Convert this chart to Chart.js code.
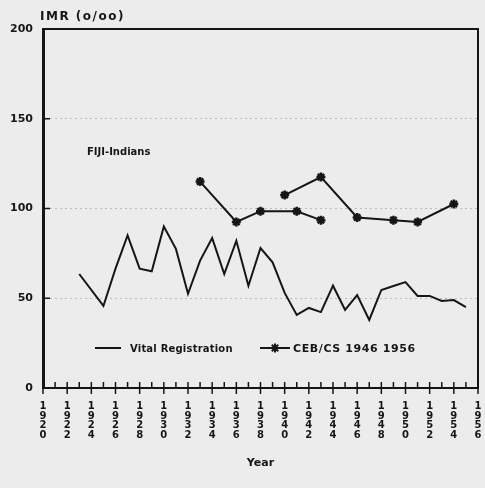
<!DOCTYPE html>
<html>
<head>
<meta charset="utf-8">
<script src="https://cdn.jsdelivr.net/npm/chart.js@4"></script>
<style>
  html, body { margin: 0; padding: 0; background: #ececec; }
  #wrap { width: 485px; height: 488px; }
</style>
</head>
<body>
<div id="wrap"><canvas id="grafico" width="485" height="488"></canvas></div>
<script>
// Dados (IMR, Fiji-Indians)
const vrYears = [1923, 1925, 1926, 1927, 1928, 1929, 1930, 1931, 1932, 1933, 1934, 1935, 1936, 1937, 1938, 1939,
                 1940, 1941, 1942, 1943, 1944, 1945, 1946, 1947, 1948, 1949, 1950, 1951, 1952, 1953, 1954, 1955];
const vrValues = [63.5, 45.7, 66.5, 85, 66.5, 65, 90, 77.5, 52.5, 71, 83.5, 63.5, 82, 57, 78, 70,
                  53, 40.7, 44.6, 42.3, 57, 43.5, 51.8, 37.9, 54.6, 56.8, 59, 51.3, 51.3, 48.5, 49, 45];
const ceb46Years = [1933, 1936, 1938, 1941, 1943];
const ceb46Values = [115, 92.5, 98.5, 98.5, 93.5];
const ceb56Years = [1940, 1943, 1946, 1949, 1951, 1954];
const ceb56Values = [107.5, 117.5, 95, 93.5, 92.5, 102.5];
const yTicks = [0, 50, 100, 150, 200];
const xMin = 1920, xMax = 1956;

const ink = '#161616';
const pts = (xs, ys) => xs.map((x, i) => ({ x: x, y: ys[i] }));

// moldura, marcas dos eixos, textos e legenda dentro do gráfico
const extras = {
  id: 'extras',
  afterDraw(chart) {
    const c = chart.ctx;
    const a = chart.chartArea;
    const xs = chart.scales.x, ys = chart.scales.y;
    c.save();
    c.strokeStyle = ink;
    c.fillStyle = ink;
    // topo e lado direito
    c.lineWidth = 2;
    c.beginPath();
    c.moveTo(a.left, a.top); c.lineTo(a.right, a.top); c.lineTo(a.right, a.bottom);
    c.stroke();
    // marcas do eixo x
    c.lineWidth = 1.5;
    for (let yr = xMin; yr <= xMax; yr++) {
      const px = xs.getPixelForValue(yr);
      c.beginPath();
      c.moveTo(px, a.bottom - 6);
      c.lineTo(px, yr % 2 === 0 ? a.bottom + 6 : a.bottom);
      c.stroke();
    }
    // marcas do eixo y
    yTicks.forEach(v => {
      const py = ys.getPixelForValue(v);
      c.beginPath(); c.moveTo(a.left, py); c.lineTo(a.left + 7, py); c.stroke();
    });
    // textos
    c.textBaseline = 'middle';
    c.textAlign = 'left';
    c.font = 'bold 12px "DejaVu Sans"';
    c.letterSpacing = '1.5px';
    c.fillText('IMR (o/oo)', a.left - 3, 17);
    c.letterSpacing = '0px';
    c.font = 'bold 10px "DejaVu Sans"';
    c.fillText('FIJI-Indians', 87, 152);
    // legenda
    const ly = 348;
    c.lineWidth = 2;
    c.beginPath(); c.moveTo(95, ly); c.lineTo(121, ly); c.stroke();
    c.font = 'bold 10px "DejaVu Sans"';
    c.letterSpacing = '0.2px';
    c.fillText('Vital Registration', 130, ly + 1);
    c.beginPath(); c.moveTo(260, ly); c.lineTo(290, ly); c.stroke();
    const r = 4.5;
    for (let k = 0; k < 4; k++) {
      const ang = k * Math.PI / 4;
      c.beginPath();
      c.moveTo(275 - r * Math.cos(ang), ly - r * Math.sin(ang));
      c.lineTo(275 + r * Math.cos(ang), ly + r * Math.sin(ang));
      c.stroke();
    }
    c.font = 'bold 11px "DejaVu Sans"';
    c.letterSpacing = '0.6px';
    c.fillText('CEB/CS 1946 1956', 293, ly + 1);
    c.restore();
  }
};

const lineBase = { borderColor: ink, backgroundColor: ink, borderWidth: 2, tension: 0, fill: false };

const ctx = document.getElementById('grafico').getContext('2d');
const chart = new Chart(ctx, {
  type: 'line',
  data: {
    datasets: [
      { ...lineBase, label: 'Vital Registration', data: pts(vrYears, vrValues), pointRadius: 0 },
      { ...lineBase, label: 'CEB/CS 1946 1956', data: pts(ceb46Years, ceb46Values),
        pointStyle: 'star', pointRadius: 4.5, pointBorderWidth: 2.5 },
      { ...lineBase, label: 'CEB/CS 1956', data: pts(ceb56Years, ceb56Values),
        pointStyle: 'star', pointRadius: 4.5, pointBorderWidth: 2.5 }
    ]
  },
  options: {
    responsive: false,
    animation: false,
    layout: { padding: { top: 29, right: 0, left: 0, bottom: 0 } },
    plugins: { legend: { display: false }, tooltip: { enabled: false } },
    scales: {
      x: {
        type: 'linear',
        min: xMin, max: xMax,
        afterFit: s => { s.height = 100; s.paddingLeft = 0; s.paddingRight = 0; },
        border: { color: ink, width: 2 },
        grid: { display: false, drawTicks: false },
        ticks: {
          stepSize: 1, autoSkip: false, maxRotation: 0, padding: 14,
          color: ink,
          font: { family: 'DejaVu Sans', weight: 'bold', size: 10, lineHeight: 0.95 },
          callback: v => (v % 2 === 0 ? String(v).split('') : '')
        },
        title: {
          display: true, text: 'Year', color: ink,
          font: { family: 'DejaVu Sans', weight: 'bold', size: 11 },
          padding: { top: 0, bottom: 18 }
        }
      },
      y: {
        min: 0, max: 200,
        afterFit: s => { s.width = 43; },
        afterBuildTicks: s => { s.ticks = yTicks.map(v => ({ value: v })); },
        border: { color: ink, width: 3, dash: [2, 3] },
        grid: {
          drawTicks: false,
          color: ctx => (ctx.tick && ctx.tick.value > 0 && ctx.tick.value < 200) ? 'rgba(0,0,0,0.2)' : 'rgba(0,0,0,0)',
          lineWidth: 1
        },
        ticks: {
          padding: 10, color: ink,
          font: { family: 'DejaVu Sans', weight: 'bold', size: 11 }
        }
      }
    }
  },
  plugins: [extras]
});
</script>
</body>
</html>
